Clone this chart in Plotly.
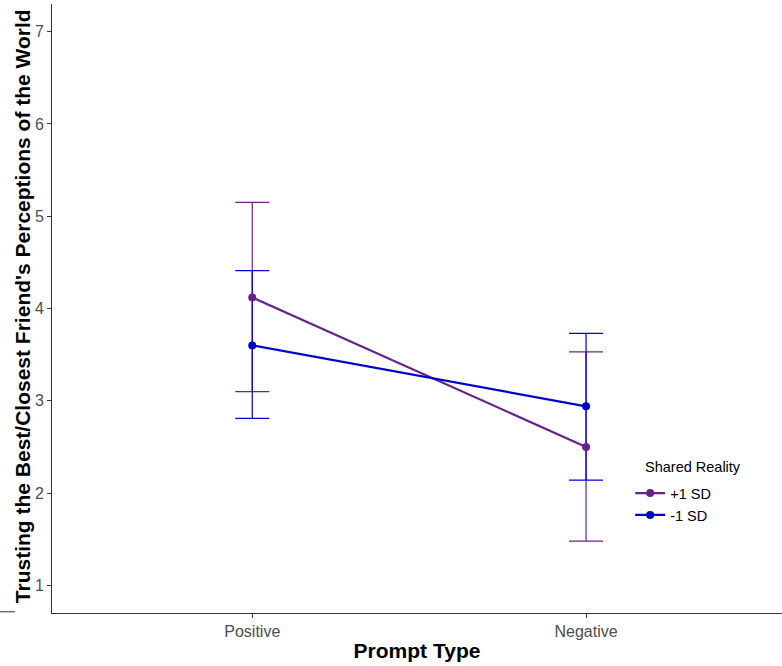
import plotly.graph_objects as go

categories = ["Positive", "Negative"]
series_names = ["+1 SD", "-1 SD"]
plus_means = [4.12, 2.50]
plus_upper = [5.15, 3.53]
plus_lower = [3.10, 1.48]
minus_means = [3.60, 2.94]
minus_upper = [4.41, 3.73]
minus_lower = [2.81, 2.14]

purple = "#68228B"
blue = "#0000CD"
xs = [0, 1]

fig = go.Figure()

def err_trace(means, up, lo, color):
    return go.Scatter(
        x=xs, y=means, mode="markers", marker=dict(size=1, opacity=0, color=color),
        showlegend=False, hoverinfo="skip",
        error_y=dict(type="data", symmetric=False,
                     array=[u - m for u, m in zip(up, means)],
                     arrayminus=[m - l for m, l in zip(means, lo)],
                     color=color, thickness=1.2, width=17),
    )

fig.add_trace(err_trace(plus_means, plus_upper, plus_lower, purple))
fig.add_trace(err_trace(minus_means, minus_upper, minus_lower, blue))

fig.add_trace(go.Scatter(x=xs, y=plus_means, mode="lines+markers", name=series_names[0],
                         line=dict(color=purple, width=2.2), marker=dict(size=8, color=purple)))
fig.add_trace(go.Scatter(x=xs, y=minus_means, mode="lines+markers", name=series_names[1],
                         line=dict(color=blue, width=2.2), marker=dict(size=8, color=blue)))

fig.add_shape(type="line", xref="paper", yref="paper", x0=-0.0712, x1=-0.0507, y0=0.002, y1=0.002,
              line=dict(color="#333333", width=1))

fig.add_annotation(text="Shared Reality", xref="paper", yref="paper", x=0.8096, y=0.2397,
                   xanchor="left", yanchor="middle", showarrow=False,
                   font=dict(size=14.5, color="black"))

fig.add_annotation(text="<b>Trusting the Best/Closest Friend's Perceptions of the World</b>",
                   xref="paper", yref="paper", x=-0.0404, y=0.503, textangle=-90,
                   xanchor="center", yanchor="middle", showarrow=False,
                   font=dict(size=21, color="black"))

fig.update_layout(
    width=782, height=666,
    margin=dict(l=52, r=0, t=4, b=53),
    plot_bgcolor="white", paper_bgcolor="white",
    font=dict(family="Liberation Sans, Arial, sans-serif", color="#4D4D4D", size=16),
    xaxis=dict(
        tickmode="array", tickvals=xs, ticktext=categories,
        range=[-0.6, 1.587], showgrid=False, zeroline=False, automargin=False,
        showline=True, linecolor="#333333", linewidth=1,
        ticks="outside", ticklen=4, tickcolor="#333333",
        tickfont=dict(size=16, color="#4D4D4D"),
        title=dict(text="<b>Prompt Type</b>", font=dict(size=21, color="black"), standoff=4),
    ),
    yaxis=dict(
        range=[0.7, 7.3], tickvals=[1, 2, 3, 4, 5, 6, 7], showgrid=False, zeroline=False,
        automargin=False,
        showline=True, linecolor="#333333", linewidth=1,
        ticks="outside", ticklen=4, tickcolor="#333333",
        tickfont=dict(size=16, color="#4D4D4D"),
    ),
    legend=dict(
        x=0.792, y=0.223, xanchor="left", yanchor="top",
        font=dict(size=14.5, color="black"), bgcolor="rgba(0,0,0,0)",
    ),
)

fig.write_html("out.html", config={"displayModeBar": False},
               post_script="document.body.style.margin='0';")
